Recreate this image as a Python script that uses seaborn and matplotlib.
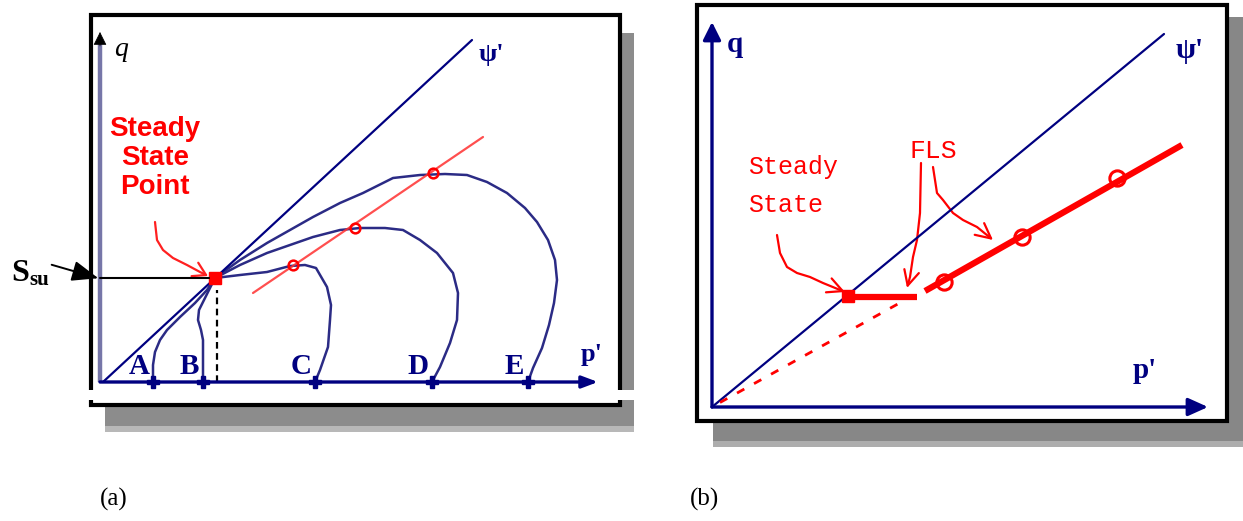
import matplotlib
matplotlib.use("Agg")
import matplotlib.pyplot as plt
import pandas as pd
import seaborn as sns
from matplotlib.patches import Rectangle, FancyArrowPatch
from matplotlib.path import Path
from matplotlib.transforms import Affine2D

# ---------------- panel (a): undrained stress paths in p'-q space ----------------
a_psi_p = [0.0, 36.9]
a_psi_q = [0.0, 34.2]
a_ss_p = [11.2]
a_ss_q = [10.4]
a_start_names = ["A", "B", "C", "D", "E"]
a_start_p = [5.0, 10.0, 21.2, 32.9, 42.5]
a_fls_p = [15.0, 38.0]
a_fls_q = [8.9, 24.5]
a_qss_p = [19.0, 25.2, 33.0]
a_qss_q = [11.7, 15.4, 20.9]
a_ssu_p = [11.4]
a_ssu_q = [9.2]

path_A_p = [5.0, 5.0, 5.2, 5.7, 6.4, 7.7, 9.2, 10.4, 11.2]
path_A_q = [0.0, 1.7, 3.0, 4.2, 5.2, 6.5, 7.9, 9.2, 10.4]
path_B_p = [10.0, 10.0, 10.0, 9.8, 9.5, 9.6, 10.1, 10.7, 11.2]
path_B_q = [0.0, 2.2, 4.2, 5.2, 6.2, 7.2, 8.2, 9.4, 10.4]
path_C_p = [21.2, 21.7, 22.5, 22.7, 22.8, 22.4, 21.3, 20.2, 18.7, 16.4, 13.7, 11.2]
path_C_q = [0.0, 1.2, 3.5, 6.2, 7.7, 9.5, 11.4, 11.7, 11.6, 11.0, 10.7, 10.4]
path_D_p = [32.9, 33.7, 34.7, 35.4, 35.5, 35.0, 33.4, 31.7, 30.0, 28.2, 25.7,
            23.7, 21.0, 16.4, 13.7, 11.2]
path_D_q = [0.0, 1.5, 3.9, 6.2, 8.9, 10.9, 12.9, 14.2, 15.2, 15.4, 15.4,
            15.2, 14.5, 12.9, 11.7, 10.4]
path_E_p = [42.5, 43.0, 43.9, 44.6, 45.1, 45.4, 45.2, 44.5, 43.4, 42.2, 40.4,
            38.4, 36.4, 34.2, 31.7, 29.0, 26.0, 23.7, 21.0, 16.4, 13.7, 11.2]
path_E_q = [0.0, 1.4, 3.4, 5.7, 7.9, 10.2, 12.2, 14.2, 16.0, 17.4, 18.9,
            20.0, 20.7, 20.8, 20.7, 20.4, 18.9, 17.9, 16.5, 13.9, 12.2, 10.4]

a_note_p = [5.2, 5.4, 6.0, 7.0, 8.4, 9.7, 10.5]
a_note_q = [16.0, 14.2, 13.2, 12.4, 11.7, 11.0, 10.6]

# ---------------- panel (b): flow liquefaction surface ----------------
b_psi_p = [0.0, 45.2]
b_psi_q = [0.0, 37.3]
b_ss_p = [13.6]
b_ss_q = [11.1]
b_dash_p = [0.8, 19.3]
b_dash_q = [0.45, 10.7]
b_flat_p = [13.6, 20.5]
b_flat_q = [11.0, 11.0]
b_fls_p = [21.3, 47.0]
b_fls_q = [11.6, 26.2]
b_qss_p = [23.2, 31.0, 40.5]
b_qss_q = [12.5, 17.0, 22.9]

b_fls_arrow1_p = [20.9, 20.8, 20.5, 20.1, 19.8, 19.5]
b_fls_arrow1_q = [24.4, 19.4, 16.7, 15.0, 13.0, 11.9]
b_fls_arrow2_p = [22.1, 22.5, 23.1, 24.1, 25.1, 26.5, 28.1]
b_fls_arrow2_q = [24.0, 21.4, 20.7, 19.4, 18.7, 18.0, 16.7]
b_ss_arrow_p = [6.5, 6.8, 7.5, 8.5, 9.8, 11.1, 13.3]
b_ss_arrow_q = [17.2, 15.4, 14.0, 13.4, 13.0, 12.4, 11.5]

NAVY = "#000080"
CURVE = "#2b2b85"
RED = "#ff0000"

sns.set_theme(style="white")
plt.rcParams["font.family"] = ["Liberation Serif", "DejaVu Serif"]

W, H = 1243, 521
fig = plt.figure(figsize=(W / 100, H / 100), dpi=100, facecolor="white")
px = Affine2D().scale(1.0 / W, -1.0 / H).translate(0, 1) + fig.transFigure


def rect(x0, y0, x1, y1, **kw):
    fig.add_artist(Rectangle((x0, y0), x1 - x0, y1 - y0, transform=px, **kw))


def panel(x0, y0, x1, y1, ox, oy):
    ax = fig.add_axes([x0 / W, 1 - y1 / H, (x1 - x0) / W, (y1 - y0) / H])
    ax.set_xlim((x0 - ox) / 10, (x1 - ox) / 10)
    ax.set_ylim((oy - y1) / 10, (oy - y0) / 10)
    ax.set_axis_off()
    ax.patch.set_alpha(0)
    ax.set_zorder(2)
    return ax


def curve_arrow(ax, ps, qs, color, lw, style, scale):
    verts = list(zip(ps, qs))
    codes = [Path.MOVETO] + [Path.LINETO] * (len(verts) - 1)
    ax.add_patch(FancyArrowPatch(path=Path(verts, codes), arrowstyle=style,
                                 mutation_scale=scale, color=color, lw=lw,
                                 joinstyle="round", capstyle="round"))


# frames with drop shadows
rect(105, 33, 634, 432, fc="#8c8c8c", ec="none", zorder=-3)
rect(105, 426, 634, 432, fc="#b8b8b8", ec="none", zorder=-3)
rect(91, 15, 620, 405, fc="white", ec="black", lw=3.0, zorder=-2)
rect(84, 390, 641, 400, fc="white", ec="none", zorder=-1)

rect(713, 17, 1243, 447, fc="#878787", ec="none", zorder=-3)
rect(713, 441, 1243, 447, fc="#adadad", ec="none", zorder=-3)
rect(697, 5, 1227, 421, fc="white", ec="black", lw=3.0, zorder=-2)

# ---------------- draw panel (a) ----------------
ax = panel(91, 15, 620, 405, 103, 382)

paths = pd.concat([
    pd.DataFrame({"path": name, "p": p, "q": q})
    for name, p, q in [("A", path_A_p, path_A_q), ("B", path_B_p, path_B_q),
                       ("C", path_C_p, path_C_q), ("D", path_D_p, path_D_q),
                       ("E", path_E_p, path_E_q)]
], ignore_index=True)
sns.lineplot(data=paths, x="p", y="q", units="path", estimator=None, sort=False,
             color=CURVE, lw=1.8, ax=ax, legend=False)

ax.plot(a_psi_p, a_psi_q, color=NAVY, lw=1.6)
ax.plot([a_ssu_p[0]] * 2, [0, a_ssu_q[0]], color="black", lw=1.6, ls=(0, (3, 2)))
ax.plot(a_fls_p, a_fls_q, color="#ff3030", lw=1.6, alpha=0.85)
ax.plot(a_qss_p, a_qss_q, ls="none", marker="o", ms=7, mfc="none", mec=RED, mew=1.8)

# axes of the stress plane
ax.plot([-0.3, -0.3], [0, 34.2], color="#7676a8", lw=3.2, solid_capstyle="butt")
ax.annotate("", xy=(-0.3, 35.0), xytext=(-0.3, 33.6),
            arrowprops=dict(arrowstyle="-|>,head_length=0.7,head_width=0.35",
                            color="black", lw=0.5, shrinkA=0, shrinkB=0))
ax.annotate("", xy=(49.5, 0), xytext=(-0.3, 0),
            arrowprops=dict(arrowstyle="-|>,head_length=0.8,head_width=0.3",
                            color=NAVY, lw=2.4, shrinkA=0, shrinkB=0))
ax.plot(a_start_p, [0] * len(a_start_p), ls="none", marker="P", ms=8, color=NAVY)
ax.plot(a_ss_p, a_ss_q, ls="none", marker="s", ms=8, color=RED)

# S_su level
ax.plot([-0.3, 10.6], [a_ss_q[0] + 0.05] * 2, color="black", lw=1.5)

for name, p in zip(a_start_names, a_start_p):
    ax.text(p - 1.4, 1.6, name, color=NAVY, fontsize=21, fontweight="bold",
            ha="center", va="center")
ax.text(1.8, 33.3, "q", color="black", fontsize=20, style="italic", ha="center", va="center")
ax.text(38.8, 32.8, "ψ'", color=NAVY, fontsize=19, fontweight="bold", ha="center", va="center")
ax.text(48.9, 2.7, "p'", color=NAVY, fontsize=19, fontweight="bold", ha="center", va="center")

ax.text(5.2, 26.6, "Steady\nState\nPoint", color=RED, fontsize=20, fontweight="bold",
        ha="center", va="top", linespacing=1.15,
        family=["Liberation Sans Narrow", "Liberation Sans", "DejaVu Sans"])
curve_arrow(ax, a_note_p, a_note_q, "#ff2020", 1.6, "->,head_length=0.5,head_width=0.3", 18)

fig.text(11, 281, "S", transform=px, fontsize=23, fontweight="bold", color="black",
         ha="left", va="baseline")
fig.text(29, 285, "su", transform=px, fontsize=15, fontweight="bold", color="black",
         ha="left", va="baseline")
fig.add_artist(FancyArrowPatch((49, 264), (101, 279), transform=px,
                               arrowstyle="-|>,head_length=0.9,head_width=0.35",
                               mutation_scale=18, color="black", lw=1.4, zorder=5))

# ---------------- draw panel (b) ----------------
bx = panel(697, 5, 1227, 421, 712, 407)
bx.plot(b_psi_p, b_psi_q, color=NAVY, lw=1.6)
bx.plot(b_dash_p, b_dash_q, color=RED, lw=2.0, ls=(0, (3, 4)))
bx.plot(b_flat_p, b_flat_q, color=RED, lw=4.5, solid_capstyle="butt")
bx.plot(b_fls_p, b_fls_q, color=RED, lw=4.5, solid_capstyle="butt")
bx.plot(b_qss_p, b_qss_q, ls="none", marker="o", ms=11, mfc="none", mec=RED, mew=2.2)
bx.plot(b_ss_p, b_ss_q, ls="none", marker="s", ms=9, color=RED)

bx.annotate("", xy=(0, 38.5), xytext=(0, 0),
            arrowprops=dict(arrowstyle="-|>,head_length=0.9,head_width=0.45",
                            color=NAVY, lw=2.4, shrinkA=0, shrinkB=0))
bx.annotate("", xy=(49.6, 0), xytext=(0, 0),
            arrowprops=dict(arrowstyle="-|>,head_length=1.0,head_width=0.45",
                            color=NAVY, lw=2.4, shrinkA=0, shrinkB=0))

bx.text(2.3, 36.3, "q", color=NAVY, fontsize=21, fontweight="bold", ha="center", va="center")
bx.text(47.8, 35.6, "ψ'", color=NAVY, fontsize=21, fontweight="bold", ha="center", va="center")
bx.text(43.3, 3.6, "p'", color=NAVY, fontsize=21, fontweight="bold", ha="center", va="center")

mono = ["Liberation Mono", "DejaVu Sans Mono"]
bx.text(3.6, 25.2, "Steady\nState", color=RED, fontsize=18, ha="left", va="top",
        linespacing=1.75, family=mono)
bx.text(22.1, 25.6, "FLS", color=RED, fontsize=19, ha="center", va="center", family=mono)
curve_arrow(bx, b_fls_arrow1_p, b_fls_arrow1_q, RED, 1.6, "->,head_length=0.6,head_width=0.3", 18)
curve_arrow(bx, b_fls_arrow2_p, b_fls_arrow2_q, RED, 1.6, "->,head_length=0.6,head_width=0.3", 18)
curve_arrow(bx, b_ss_arrow_p, b_ss_arrow_q, RED, 1.6, "->,head_length=0.6,head_width=0.3", 18)

# panel captions
fig.text(100, 506, "(a)", transform=px, fontsize=18, color="black", ha="left", va="baseline")
fig.text(690, 506, "(b)", transform=px, fontsize=18, color="black", ha="left", va="baseline")

fig.savefig("out.png", dpi=100, facecolor="white")
